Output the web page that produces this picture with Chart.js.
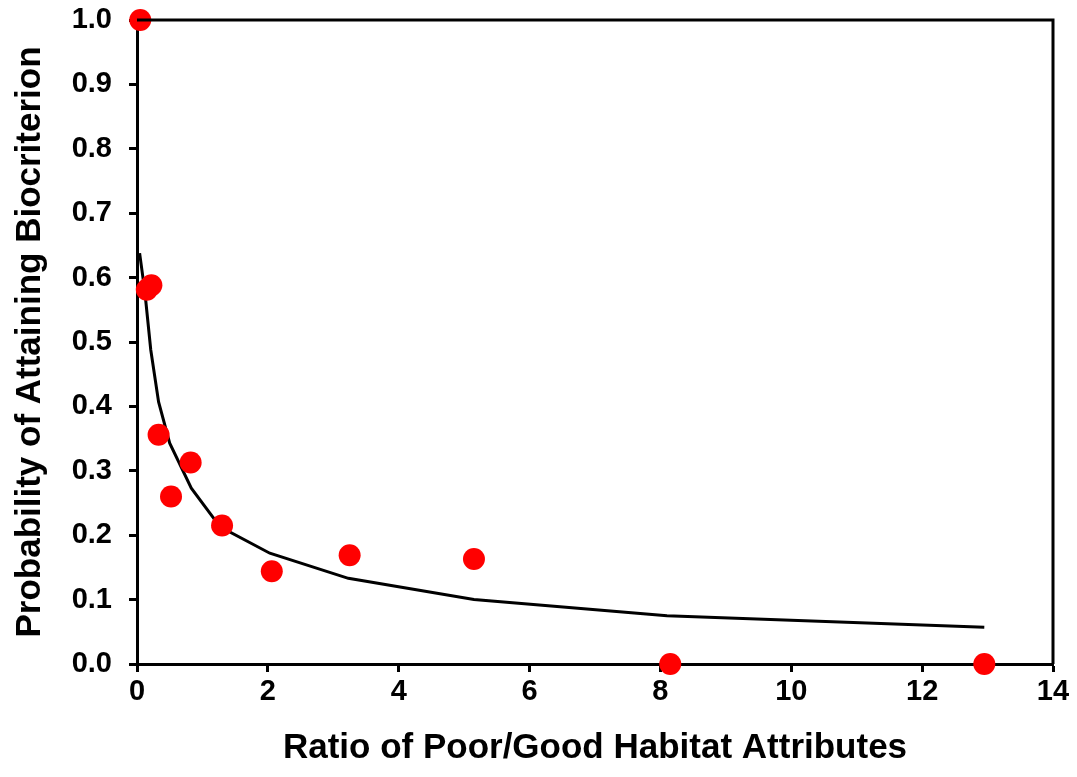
<!DOCTYPE html>
<html>
<head>
<meta charset="utf-8">
<script src="https://cdn.jsdelivr.net/npm/chart.js@4"></script>
<style>
  html, body { margin: 0; padding: 0; background: #fff; }
  #wrap { width: 1077px; height: 777px; }
</style>
</head>
<body>
<div id="wrap"><canvas id="myChart" width="1077" height="777"></canvas></div>
<script>
// observed points
var obsX = [0.05, 0.15, 0.22, 0.33, 0.52, 0.82, 1.30, 2.06, 3.25, 5.15, 8.15, 12.95];
var obsY = [1.0, 0.581, 0.588, 0.356, 0.260, 0.313, 0.215, 0.144, 0.169, 0.163, 0.0, 0.0];

// fitted curve
var fitX = [0.04, 0.12, 0.21, 0.33, 0.50, 0.83, 1.27, 2.03, 3.23, 5.15, 8.10, 12.95];
var fitY = [0.638, 0.578, 0.488, 0.407, 0.343, 0.273, 0.213, 0.172, 0.133, 0.100, 0.075, 0.057];

var xRange = [0, 14, 2];
var yRange = [0, 1.0, 0.1];

var xTitle = 'Ratio of Poor/Good Habitat Attributes';
var yTitle = 'Probability of Attaining Biocriterion';

function pairs(xs, ys) {
    return xs.map(function (x, i) { return { x: x, y: ys[i] }; });
}

var frame = {
    id: 'frame',
    afterDatasetsDraw: function (chart) {
        var a = chart.chartArea, c = chart.ctx;
        c.save();
        c.strokeStyle = '#000';
        c.lineWidth = 3;
        c.beginPath();
        c.moveTo(a.left, a.top);
        c.lineTo(a.right, a.top);
        c.lineTo(a.right, a.bottom);
        c.stroke();
        c.restore();
    }
};

var tickFont = { family: 'Liberation Sans', weight: 'bold', size: 29 };
var titleFont = { family: 'Liberation Sans', weight: 'bold', size: 35 };

var ctx = document.getElementById('myChart').getContext('2d');
var myChart = new Chart(ctx, {
    type: 'scatter',
    data: {
        datasets: [
            {
                data: pairs(obsX, obsY),
                backgroundColor: '#ff0000',
                borderWidth: 0,
                pointRadius: 11,
                pointHoverRadius: 11,
                clip: false,
                order: 1,
            },
            {
                data: pairs(fitX, fitY),
                showLine: true,
                borderColor: '#000000',
                borderWidth: 3,
                pointRadius: 0,
                tension: 0,
                fill: false,
                order: 2,
            },
        ],
    },
    plugins: [frame],
    options: {
        responsive: false,
        animation: false,
        layout: { padding: { top: 20, right: 24, left: 0, bottom: 0 } },
        plugins: {
            legend: { display: false },
            tooltip: { enabled: false },
        },
        scales: {
            x: {
                type: 'linear',
                min: xRange[0],
                max: xRange[1],
                afterFit: function (s) {
                    s.height = 113;
                    s.paddingLeft = 0;
                    s.paddingRight = 0;
                },
                ticks: {
                    stepSize: xRange[2],
                    color: '#000',
                    font: tickFont,
                    padding: 3,
                    maxRotation: 0,
                },
                grid: {
                    drawOnChartArea: false,
                    drawTicks: true,
                    tickLength: 8,
                    tickWidth: 3,
                    color: '#000',
                },
                border: { display: true, color: '#000', width: 3 },
                title: {
                    display: true,
                    text: xTitle,
                    color: '#000',
                    font: titleFont,
                    padding: { top: 0, bottom: 8 },
                },
            },
            y: {
                type: 'linear',
                min: yRange[0],
                max: yRange[1],
                afterFit: function (s) {
                    s.width = 137;
                    s.paddingTop = 0;
                    s.paddingBottom = 0;
                },
                ticks: {
                    stepSize: yRange[2],
                    color: '#000',
                    font: tickFont,
                    padding: 17,
                    callback: function (v) { return v.toFixed(1); },
                },
                grid: {
                    drawOnChartArea: false,
                    drawTicks: true,
                    tickLength: 8,
                    tickWidth: 3,
                    color: '#000',
                },
                border: { display: true, color: '#000', width: 3 },
                title: {
                    display: true,
                    text: yTitle,
                    color: '#000',
                    font: titleFont,
                    padding: { top: 9, bottom: 0 },
                },
            },
        },
    },
});
</script>
</body>
</html>
